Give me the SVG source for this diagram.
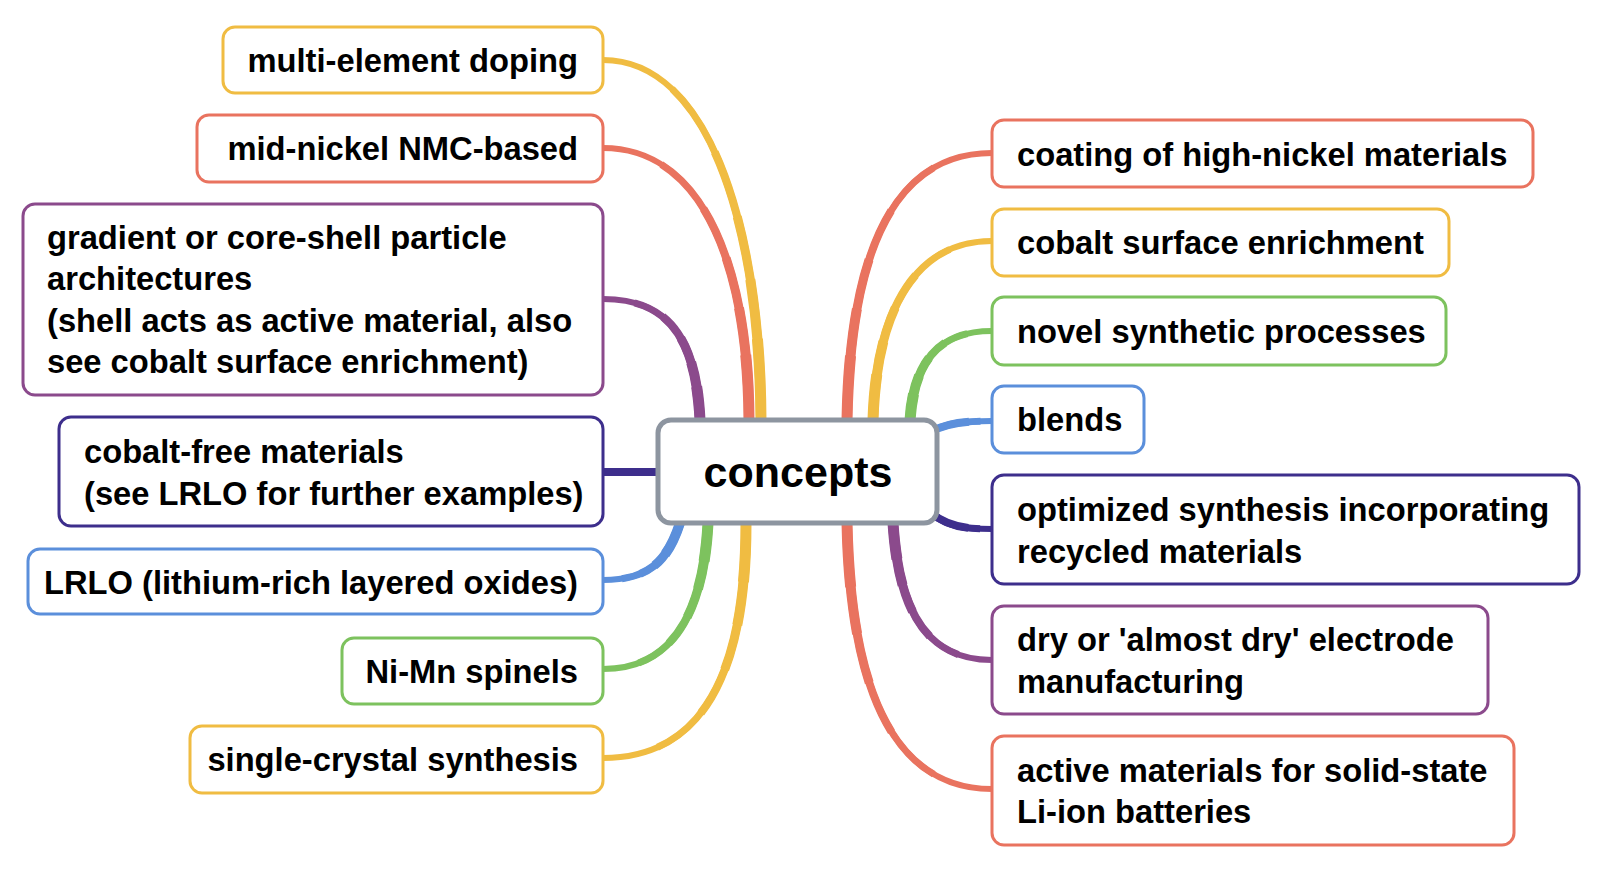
<svg xmlns="http://www.w3.org/2000/svg" width="1602" height="870" viewBox="0 0 1602 870">
<style>
.n rect{fill:#fff;stroke-width:3}
.t{font-family:"Liberation Sans",Arial,sans-serif;font-weight:bold;font-size:32.7px;fill:#000}
.c path{fill:none}
.c .a{stroke-width:6;stroke-linecap:round}
.c .s1{stroke-width:7;stroke-dasharray:0 18 82}
.c .s2{stroke-width:8;stroke-dasharray:0 36 64}
.c .s3{stroke-width:9;stroke-dasharray:0 52 48}
.c .s4{stroke-width:10;stroke-dasharray:0 67 33}
.c .s5{stroke-width:11;stroke-dasharray:0 81 19}
.y{stroke:#F0BC42}.r{stroke:#E9735F}.p{stroke:#8B4A8C}.i{stroke:#3D2E8C}.b{stroke:#5B8FDB}.g{stroke:#7DC25E}
</style>
<rect width="1602" height="870" fill="#fff"/>
<g id="connectors" class="c">
<defs>
<path id="c1" pathLength="100" d="M603,60 C710,60 760,230 761,420"/>
<path id="c2" pathLength="100" d="M603,148 C700,148 748,260 749,420"/>
<path id="c3" pathLength="100" d="M603,299 C670,299 696,340 700,420"/>
<path id="c4" pathLength="100" d="M603,472 L660,472"/>
<path id="c5" pathLength="100" d="M603,580 C650,580 668,560 680,523"/>
<path id="c6" pathLength="100" d="M603,669 C680,669 704,600 708,523"/>
<path id="c7" pathLength="100" d="M603,758 C720,758 746,640 746,523"/>
<path id="d1" pathLength="100" d="M992,153 C890,153 850,260 847,420"/>
<path id="d2" pathLength="100" d="M992,241 C910,241 876,320 873,420"/>
<path id="d3" pathLength="100" d="M992,331 C940,331 914,360 910,420"/>
<path id="d4" pathLength="100" d="M992,421 C960,421 945,424 930,432"/>
<path id="d5" pathLength="100" d="M992,529 C960,529 945,525 930,512"/>
<path id="d6" pathLength="100" d="M992,660 C920,660 898,600 893,523"/>
<path id="d7" pathLength="100" d="M992,789 C880,789 850,660 847,523"/>
</defs>
<g class="y"><use href="#c1" class="a"/><use href="#c1" class="s1"/><use href="#c1" class="s2"/><use href="#c1" class="s3"/><use href="#c1" class="s4"/><use href="#c1" class="s5"/></g>
<g class="r"><use href="#c2" class="a"/><use href="#c2" class="s1"/><use href="#c2" class="s2"/><use href="#c2" class="s3"/><use href="#c2" class="s4"/><use href="#c2" class="s5"/></g>
<g class="p"><use href="#c3" class="a"/><use href="#c3" class="s1"/><use href="#c3" class="s2"/><use href="#c3" class="s3"/><use href="#c3" class="s4"/><use href="#c3" class="s5"/></g>
<g class="i"><use href="#c4" class="a" style="stroke-width:8"/></g>
<g class="b"><use href="#c5" class="a"/><use href="#c5" class="s1"/><use href="#c5" class="s2"/><use href="#c5" class="s3"/><use href="#c5" class="s4"/></g>
<g class="g"><use href="#c6" class="a"/><use href="#c6" class="s1"/><use href="#c6" class="s2"/><use href="#c6" class="s3"/><use href="#c6" class="s4"/><use href="#c6" class="s5"/></g>
<g class="y"><use href="#c7" class="a"/><use href="#c7" class="s1"/><use href="#c7" class="s2"/><use href="#c7" class="s3"/><use href="#c7" class="s4"/><use href="#c7" class="s5"/></g>
<g class="r"><use href="#d1" class="a"/><use href="#d1" class="s1"/><use href="#d1" class="s2"/><use href="#d1" class="s3"/><use href="#d1" class="s4"/><use href="#d1" class="s5"/></g>
<g class="y"><use href="#d2" class="a"/><use href="#d2" class="s1"/><use href="#d2" class="s2"/><use href="#d2" class="s3"/><use href="#d2" class="s4"/><use href="#d2" class="s5"/></g>
<g class="g"><use href="#d3" class="a"/><use href="#d3" class="s1"/><use href="#d3" class="s2"/><use href="#d3" class="s3"/><use href="#d3" class="s4"/><use href="#d3" class="s5"/></g>
<g class="b"><use href="#d4" class="a"/><use href="#d4" class="s1"/><use href="#d4" class="s2"/></g>
<g class="i"><use href="#d5" class="a"/><use href="#d5" class="s1"/><use href="#d5" class="s2"/></g>
<g class="p"><use href="#d6" class="a"/><use href="#d6" class="s1"/><use href="#d6" class="s2"/><use href="#d6" class="s3"/><use href="#d6" class="s4"/><use href="#d6" class="s5"/></g>
<g class="r"><use href="#d7" class="a"/><use href="#d7" class="s1"/><use href="#d7" class="s2"/><use href="#d7" class="s3"/><use href="#d7" class="s4"/><use href="#d7" class="s5"/></g>
</g>
<g id="center" class="n"><rect x="658" y="420" width="279" height="103" rx="13" stroke="#8D95A0" style="stroke-width:5"/><text class="t" x="798" y="487" text-anchor="middle" style="font-size:43px">concepts</text></g>
<g id="multi-element" class="n"><rect class="y" x="223" y="27" width="380" height="66" rx="12"/><text class="t" x="578" y="72" text-anchor="end">multi-element doping</text></g>
<g id="mid-nickel" class="n"><rect class="r" x="197" y="115" width="406" height="67" rx="12"/><text class="t" x="578" y="160" text-anchor="end">mid-nickel NMC-based</text></g>
<g id="gradient" class="n"><rect class="p" x="23" y="204" width="580" height="191" rx="12"/><text class="t" x="47" y="249">gradient or core-shell particle</text><text class="t" x="47" y="290">architectures</text><text class="t" x="47" y="332">(shell acts as active material, also</text><text class="t" x="47" y="373">see cobalt surface enrichment)</text></g>
<g id="cobalt-free" class="n"><rect class="i" x="59" y="417" width="544" height="109" rx="12"/><text class="t" x="84" y="463">cobalt-free materials</text><text class="t" x="84" y="505">(see LRLO for further examples)</text></g>
<g id="lrlo" class="n"><rect class="b" x="28" y="549" width="575" height="65" rx="12"/><text class="t" x="578" y="594" text-anchor="end">LRLO (lithium-rich layered oxides)</text></g>
<g id="ni-mn" class="n"><rect class="g" x="342" y="638" width="261" height="66" rx="12"/><text class="t" x="578" y="683" text-anchor="end">Ni-Mn spinels</text></g>
<g id="single-crystal" class="n"><rect class="y" x="190" y="726" width="413" height="67" rx="12"/><text class="t" x="578" y="771" text-anchor="end">single-crystal synthesis</text></g>
<g id="coating" class="n"><rect class="r" x="992" y="120" width="541" height="67" rx="12"/><text class="t" x="1017" y="166">coating of high-nickel materials</text></g>
<g id="cobalt-surface" class="n"><rect class="y" x="992" y="209" width="457" height="67" rx="12"/><text class="t" x="1017" y="254">cobalt surface enrichment</text></g>
<g id="novel" class="n"><rect class="g" x="992" y="297" width="454" height="68" rx="12"/><text class="t" x="1017" y="343">novel synthetic processes</text></g>
<g id="blends" class="n"><rect class="b" x="992" y="386" width="152" height="67" rx="12"/><text class="t" x="1017" y="431">blends</text></g>
<g id="optimized" class="n"><rect class="i" x="992" y="475" width="587" height="109" rx="12"/><text class="t" x="1017" y="521">optimized synthesis incorporating</text><text class="t" x="1017" y="563">recycled materials</text></g>
<g id="dry" class="n"><rect class="p" x="992" y="606" width="496" height="108" rx="12"/><text class="t" x="1017" y="651">dry or 'almost dry' electrode</text><text class="t" x="1017" y="693">manufacturing</text></g>
<g id="active" class="n"><rect class="r" x="992" y="736" width="522" height="109" rx="12"/><text class="t" x="1017" y="782">active materials for solid-state</text><text class="t" x="1017" y="823">Li-ion batteries</text></g>
</svg>
